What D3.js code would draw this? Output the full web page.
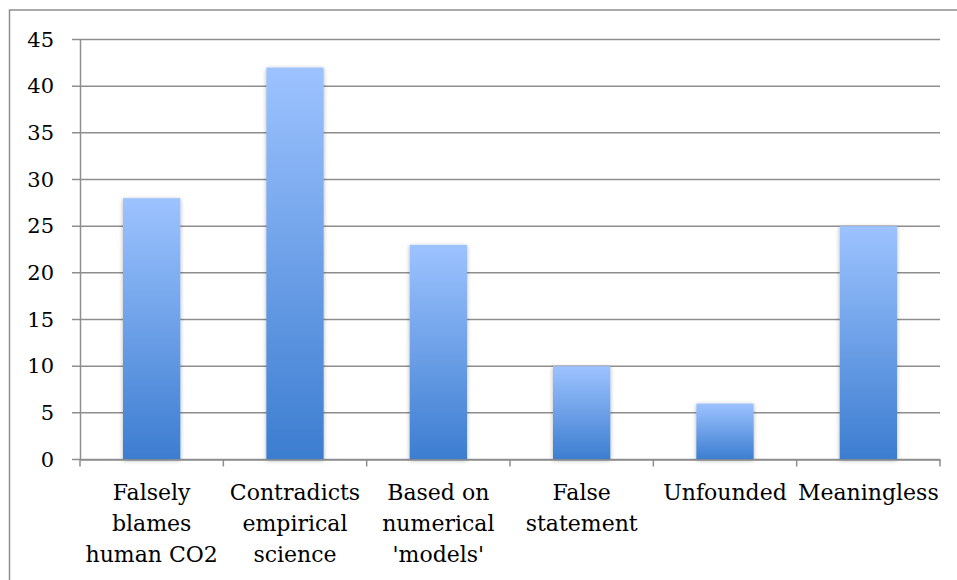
<!DOCTYPE html>
<html>
<head>
<meta charset="utf-8">
<script src="https://cdn.jsdelivr.net/npm/d3@7"></script>
<style>
  body { margin: 0; background: #fff; }
</style>
</head>
<body>
<div id="main"></div>
<script>
// categories and values
const categories = [
  ["Falsely", "blames", "human CO2"],
  ["Contradicts", "empirical", "science"],
  ["Based on", "numerical", "'models'"],
  ["False", "statement"],
  ["Unfounded"],
  ["Meaningless"]
];
const values = [28, 42, 23, 10, 6, 25];
const yTicks = [0, 5, 10, 15, 20, 25, 30, 35, 40, 45];

const width = 957;
const height = 580;
const plotLeft = 80, plotRight = 940, plotTop = 39.5, plotBottom = 459.5;
const fontFam = '"DejaVu Serif", serif';

const svg = d3.select('#main')
  .append('svg')
  .attr('width', width)
  .attr('height', height);

// outer frame
svg.append('rect')
  .attr('x', 9.5).attr('y', 10)
  .attr('width', 960).attr('height', 600)
  .attr('fill', 'none')
  .attr('stroke', '#8e8e8e')
  .attr('stroke-width', 1.5);

const defs = svg.append('defs');
const grad = defs.append('linearGradient')
  .attr('id', 'barGrad')
  .attr('x1', 0).attr('y1', 0).attr('x2', 0).attr('y2', 1);
grad.append('stop').attr('offset', '0%').attr('stop-color', '#9dc3ff');
grad.append('stop').attr('offset', '100%').attr('stop-color', '#3c7dd0');

const shadow = defs.append('filter').attr('id', 'shadow')
  .attr('x', '-20%').attr('y', '-10%').attr('width', '140%').attr('height', '120%');
shadow.append('feDropShadow')
  .attr('dx', 0).attr('dy', 1).attr('stdDeviation', 2)
  .attr('flood-color', '#000').attr('flood-opacity', 0.3);

const xScale = d3.scaleBand()
  .domain(d3.range(categories.length))
  .range([plotLeft, plotRight])
  .paddingInner(0).paddingOuter(0);

const yScale = d3.scaleLinear().domain([0, 45]).range([plotBottom, plotTop]);

// gridlines
svg.append('g')
  .selectAll('line')
  .data(yTicks)
  .enter().append('line')
  .attr('x1', plotLeft - 8)
  .attr('x2', plotRight)
  .attr('y1', d => yScale(d))
  .attr('y2', d => yScale(d))
  .attr('stroke', '#8e8e8e')
  .attr('stroke-width', 1.5);

// y axis
const yAxis = d3.axisLeft(yScale).tickValues(yTicks).tickSize(0).tickPadding(26);
const gy = svg.append('g')
  .attr('transform', 'translate(' + plotLeft + ',0)')
  .call(yAxis)
  .attr('font-family', fontFam)
  .attr('font-size', 21);
gy.select('.domain').attr('stroke', '#8e8e8e').attr('stroke-width', 1.5);
gy.selectAll('text').attr('fill', '#000');

// bars
svg.selectAll('rect.bar')
  .data(values)
  .enter().append('rect')
  .attr('class', 'bar')
  .attr('x', (d, i) => xScale(i) + xScale.bandwidth() * 0.3)
  .attr('width', xScale.bandwidth() * 0.4)
  .attr('y', d => yScale(d))
  .attr('height', d => plotBottom - yScale(d))
  .attr('fill', 'url(#barGrad)')
  .attr('filter', 'url(#shadow)');

// x axis
const xAxis = d3.axisBottom(xScale).tickSize(0).tickFormat('');
const gx = svg.append('g')
  .attr('transform', 'translate(0,' + plotBottom + ')')
  .call(xAxis);
gx.select('.domain').attr('stroke', '#8e8e8e').attr('stroke-width', 1.5);
gx.selectAll('line.cat')
  .data(d3.range(categories.length + 1))
  .enter().append('line')
  .attr('class', 'cat')
  .attr('x1', i => plotLeft + i * xScale.step())
  .attr('x2', i => plotLeft + i * xScale.step())
  .attr('y1', 0).attr('y2', 7)
  .attr('stroke', '#8e8e8e').attr('stroke-width', 1.5);

// category labels
const labels = svg.append('g')
  .attr('font-family', fontFam)
  .attr('font-size', 22)
  .attr('fill', '#000');
categories.forEach((lines, i) => {
  const t = labels.append('text')
    .attr('x', xScale(i) + xScale.bandwidth() / 2)
    .attr('y', 500)
    .attr('text-anchor', 'middle');
  lines.forEach((ln, j) => {
    t.append('tspan')
      .attr('x', xScale(i) + xScale.bandwidth() / 2)
      .attr('dy', j === 0 ? 0 : 31)
      .text(ln);
  });
});
</script>
</body>
</html>
